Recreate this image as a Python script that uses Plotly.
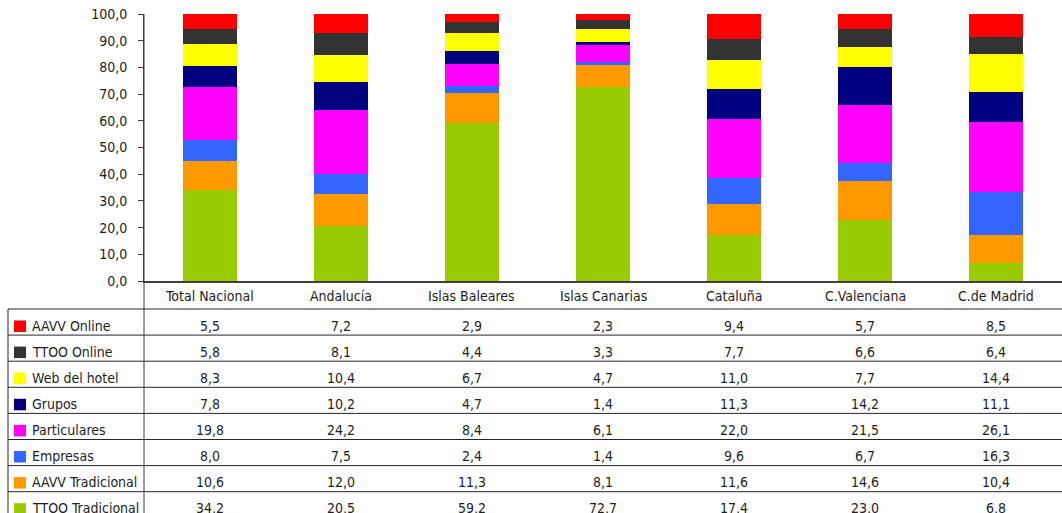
import plotly.graph_objects as go

# Regions (columns) and channel shares (%)
regions = ["Total Nacional", "Andalucía", "Islas Baleares", "Islas Canarias",
           "Cataluña", "C.Valenciana", "C.de Madrid"]

# Series listed bottom-to-top in the stack
ttoo_tradicional = [34.2, 20.5, 59.2, 72.7, 17.4, 23.0, 6.8]
aavv_tradicional = [10.6, 12.0, 11.3, 8.1, 11.6, 14.6, 10.4]
empresas = [8.0, 7.5, 2.4, 1.4, 9.6, 6.7, 16.3]
particulares = [19.8, 24.2, 8.4, 6.1, 22.0, 21.5, 26.1]
grupos = [7.8, 10.2, 4.7, 1.4, 11.3, 14.2, 11.1]
web_hotel = [8.3, 10.4, 6.7, 4.7, 11.0, 7.7, 14.4]
ttoo_online = [5.8, 8.1, 4.4, 3.3, 7.7, 6.6, 6.4]
aavv_online = [5.5, 7.2, 2.9, 2.3, 9.4, 5.7, 8.5]

series = [
    ("TTOO Tradicional", ttoo_tradicional, "#99CC00"),
    ("AAVV Tradicional", aavv_tradicional, "#FF9900"),
    ("Empresas", empresas, "#3366FF"),
    ("Particulares", particulares, "#FF00FF"),
    ("Grupos", grupos, "#000080"),
    ("Web del hotel", web_hotel, "#FFFF00"),
    ("TTOO Online", ttoo_online, "#333333"),
    ("AAVV Online", aavv_online, "#FF0000"),
]

W, H = 1062, 513
ML, MR, MT, MB = 144, 0, 14, 232
PW, PH = W - ML - MR, H - MT - MB
FONT = "DejaVu Sans Condensed, DejaVu Sans, sans-serif"
TXT = "#1e1e1e"
LINE = "#262626"
FS = 14


def px_x(x):
    return (x - ML) / PW


def px_y(y):
    return (H - MB - y) / PH


fig = go.Figure()
for name, vals, color in series:
    fig.add_trace(go.Bar(x=regions, y=vals, name=name, marker_color=color,
                         marker_line_width=0, showlegend=False))

shapes = []
annotations = []

# category header row
for r in regions:
    annotations.append(dict(x=r, xref="x", y=px_y(295.5), yref="paper",
                            text=r, showarrow=False, xanchor="center",
                            yanchor="middle", font=dict(size=FS, color=TXT)))

# data table rows, top row is the top of the stack
row_top = 309.0
row_h = 26.1
table_rows = list(reversed(series))
for i, (name, vals, color) in enumerate(table_rows):
    y0 = row_top + i * row_h
    yc = y0 + 16.5
    shapes.append(dict(type="line", xref="paper", yref="paper",
                       x0=px_x(8), x1=px_x(W), y0=px_y(y0), y1=px_y(y0),
                       line=dict(color=LINE, width=1)))
    shapes.append(dict(type="rect", xref="paper", yref="paper",
                       x0=px_x(14), x1=px_x(26), y0=px_y(y0 + 11.5),
                       y1=px_y(y0 + 23), fillcolor=color, line=dict(width=0)))
    annotations.append(dict(x=px_x(29.5), xref="paper", y=px_y(yc), yref="paper",
                            text=name, showarrow=False, xanchor="left",
                            yanchor="middle", font=dict(size=FS, color=TXT)))
    for r, v in zip(regions, vals):
        annotations.append(dict(x=r, xref="x", y=px_y(yc), yref="paper",
                                text=f"{v:.1f}".replace(".", ","),
                                showarrow=False, xanchor="center",
                                yanchor="middle", font=dict(size=FS, color=TXT)))

# table frame: left border and axis line running down through the table
shapes.append(dict(type="line", xref="paper", yref="paper",
                   x0=px_x(8), x1=px_x(8), y0=px_y(row_top), y1=px_y(H),
                   line=dict(color=LINE, width=1)))
shapes.append(dict(type="line", xref="paper", yref="paper",
                   x0=0, x1=0, y0=px_y(H), y1=1,
                   line=dict(color="#404040", width=1)))

fig.update_layout(
    width=W, height=H,
    margin=dict(l=ML, r=MR, t=MT, b=MB, pad=0),
    barmode="stack", bargap=0.588,
    paper_bgcolor="white", plot_bgcolor="white",
    separators=",.",
    font=dict(family=FONT, size=FS, color=TXT),
    shapes=shapes, annotations=annotations,
    xaxis=dict(showticklabels=False, ticks="", showgrid=False,
               showline=True, linecolor="#404040", linewidth=2,
               zeroline=False),
    yaxis=dict(range=[0, 100], dtick=10, tickformat=".1f", ticks="outside",
               ticklen=5, tickcolor="#404040", showgrid=False,
               showline=True, linecolor="#404040", linewidth=1,
               zeroline=False, ticklabelstandoff=8,
               tickfont=dict(size=FS, color=TXT)),
)

fig.write_html("out.html")
